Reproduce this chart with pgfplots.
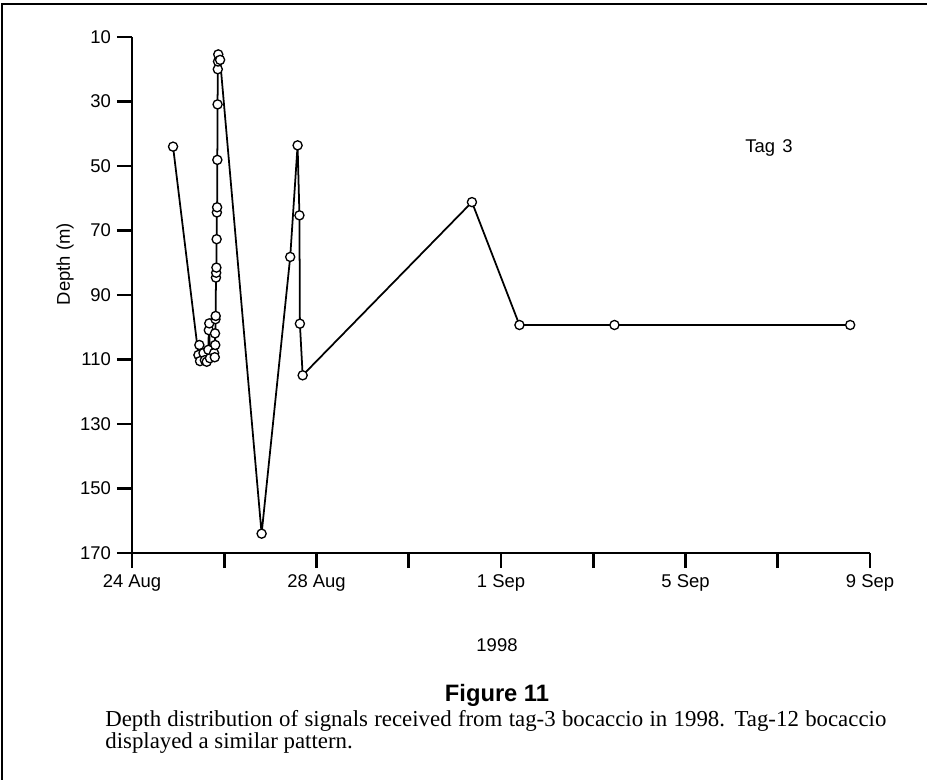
\documentclass[border=0pt]{standalone}
\usepackage{fontspec}
\setmainfont{Liberation Sans}
\newfontfamily\capfont{Liberation Serif}
\usepackage{pgfplots}
\pgfplotsset{compat=1.18}
\begin{document}
\begin{tikzpicture}[x=1cm,y=1cm]
\useasboundingbox (-2.64,-4.54) rectangle (15.9,11.06);
\draw[line width=1.3pt] (-2.60,-4.54) -- (-2.60,10.98) -- (15.9,10.98);
\begin{axis}[
  at={(0,0)}, anchor=south west,
  width=14.76cm, height=10.32cm, scale only axis,
  xmin=0, xmax=16, ymin=10, ymax=170, y dir=reverse,
  axis x line*=bottom, axis y line*=left,
  axis line style={line width=1.5pt, -},
  xtick={0,2,...,16},
  xticklabels={24 Aug,,28 Aug,,1 Sep,,5 Sep,,9 Sep},
  ytick={10,30,...,170},
  tick align=outside, major tick length=0.3cm,
  every tick/.style={line width=1.5pt, black},
  tick label style={font=\fontsize{10.5}{12}\selectfont},
  /pgf/number format/assume math mode=true,
  clip=false,
]
\addplot[black, line width=1pt, mark=*, mark size=2.6pt,
  mark options={fill=white, draw=black, line width=0.75pt}] coordinates {
(0.89,44)
(1.44,108.6)
(1.46,105.5)
(1.475,110.5)
(1.55,108)
(1.58,110.2)
(1.62,110.7)
(1.655,107)
(1.665,100.9)
(1.675,98.8)
(1.69,109.6)
(1.78,108)
(1.795,109.3)
(1.80,101.9)
(1.805,105.5)
(1.81,97.5)
(1.815,96.5)
(1.82,84.6)
(1.825,83.1)
(1.83,81.5)
(1.835,72.7)
(1.84,64.4)
(1.845,62.8)
(1.85,48.1)
(1.855,30.9)
(1.86,20)
(1.865,17.6)
(1.87,15.4)
(1.91,17.1)
(2.81,164)
(3.43,78.2)
(3.59,43.6)
(3.63,65.3)
(3.64,98.9)
(3.70,114.9)
(7.37,61.2)
(8.40,99.3)
(10.46,99.3)
(15.57,99.3)
};
\end{axis}
\node[rotate=90, font=\fontsize{10.5}{12}\selectfont] at (-1.34,5.78) {Depth (m)};
\node[font=\fontsize{10.5}{12}\selectfont] at (12.74,8.1) {Tag\hspace{0.15cm}3};
\node[font=\fontsize{10.5}{12}\selectfont] at (7.3,-1.84) {1998};
\node[font=\fontsize{13.5}{15}\selectfont\bfseries] at (7.3,-2.84) {Figure 11};
\node[anchor=west, inner sep=0pt, font=\capfont\fontsize{13}{15}\selectfont] at (-0.54,-3.36) {\makebox[15.62cm][s]{Depth distribution of signals received from tag-3 bocaccio in 1998. Tag-12 bocaccio}};
\node[anchor=west, inner sep=0pt, font=\capfont\fontsize{13}{15}\selectfont] at (-0.54,-3.81) {displayed a similar pattern.};
\end{tikzpicture}
\end{document}
